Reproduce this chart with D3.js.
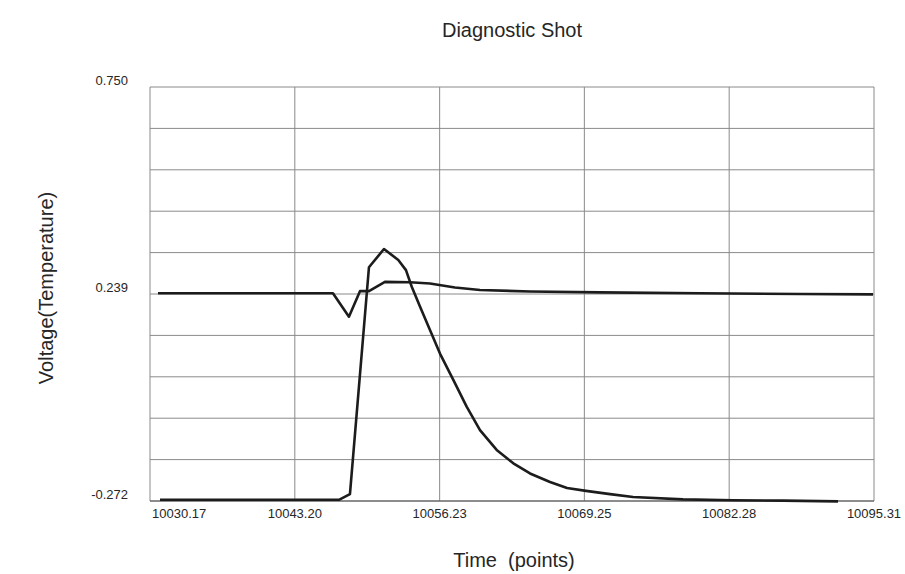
<!DOCTYPE html>
<html>
<head>
<meta charset="utf-8">
<script src="https://cdn.jsdelivr.net/npm/d3@7"></script>
<style>
  html, body { margin: 0; padding: 0; background: #ffffff; }
  svg { display: block; }
  text { font-family: "Liberation Sans", Arial, sans-serif; fill: #262626; }
</style>
</head>
<body>
<svg id="chart" width="905" height="574"></svg>
<script>
// ---- data ----
const xTickLabels = ["10030.17", "10043.20", "10056.23", "10069.25", "10082.28", "10095.31"];
const xTickValues = [10030.17, 10043.20, 10056.23, 10069.25, 10082.28, 10095.31];
const yTickLabels = ["0.750", "0.239", "-0.272"];
const yTickValues = [0.750, 0.239, -0.272];

// upper trace (near 0.239 with a small dip)
const time1 = [10030.89, 10046.63, 10048.07, 10049.06, 10049.87, 10051.31, 10053.56, 10055.36, 10057.61, 10059.86, 10064.36, 10070.66, 10079.65, 10088.65, 10095.22];
const volt1 = [0.241, 0.241, 0.183, 0.246, 0.246, 0.269, 0.268, 0.265, 0.255, 0.249, 0.245, 0.243, 0.241, 0.239, 0.238];

// pulse trace (rises from baseline, peaks, decays)
const time2 = [10031.07, 10047.17, 10048.16, 10049.87, 10051.22, 10052.51, 10053.20, 10053.72, 10054.46, 10055.36, 10056.26, 10057.46, 10058.66, 10059.86, 10061.36, 10062.86, 10064.36, 10066.16, 10067.69, 10069.40, 10071.56, 10073.63, 10078.12, 10082.62, 10087.12, 10092.07];
const volt2 = [-0.269, -0.269, -0.255, 0.305, 0.350, 0.323, 0.298, 0.257, 0.208, 0.150, 0.092, 0.027, -0.039, -0.097, -0.146, -0.179, -0.204, -0.225, -0.240, -0.247, -0.255, -0.262, -0.268, -0.270, -0.271, -0.273];

(function () {
  const svg = d3.select("#chart");
  const pLeft = 150, pRight = 874, pTop = 87, pBottom = 501;

  const x = d3.scaleLinear().domain([10030.17, 10095.31]).range([pLeft, pRight]);
  const y = d3.scaleLinear().domain([-0.272, 0.750]).range([pBottom, pTop]);

  svg.append("rect").attr("width", 905).attr("height", 574).attr("fill", "#ffffff");

  // horizontal gridlines (10 equal divisions)
  const yGrid = d3.range(11).map(i => -0.272 + i * (0.750 + 0.272) / 10);
  svg.append("g").selectAll("line").data(yGrid).join("line")
    .attr("x1", pLeft).attr("x2", pRight)
    .attr("y1", d => y(d)).attr("y2", d => y(d))
    .attr("stroke", "#8a8a8a").attr("stroke-width", 1);

  // vertical gridlines
  svg.append("g").selectAll("line").data(xTickValues).join("line")
    .attr("x1", d => x(d)).attr("x2", d => x(d))
    .attr("y1", pTop).attr("y2", pBottom)
    .attr("stroke", "#8a8a8a").attr("stroke-width", 1);

  // bottom axis line slightly darker
  svg.append("line").attr("x1", pLeft).attr("x2", pRight).attr("y1", y(-0.272)).attr("y2", y(-0.272))
    .attr("stroke", "#555").attr("stroke-width", 1.2);

  // x tick labels
  svg.append("g").selectAll("text").data(xTickValues).join("text")
    .attr("x", (d, i) => i === 0 ? x(d) + 2 : x(d))
    .attr("y", 518)
    .attr("text-anchor", (d, i) => i === 0 ? "start" : "middle")
    .attr("font-size", 13)
    .text((d, i) => xTickLabels[i]);

  // y tick labels
  svg.append("g").selectAll("text").data(yTickValues).join("text")
    .attr("x", 128)
    .attr("y", d => y(d) - 2)
    .attr("text-anchor", "end")
    .attr("font-size", 13)
    .text((d, i) => yTickLabels[i]);

  // lines
  const line = d3.line().x(d => x(d[0])).y(d => y(d[1]));
  svg.append("path").datum(d3.zip(time1, volt1))
    .attr("d", line).attr("fill", "none").attr("stroke", "#1c1c1c").attr("stroke-width", 2.6)
    .attr("stroke-linejoin", "round");
  svg.append("path").datum(d3.zip(time2, volt2))
    .attr("d", line).attr("fill", "none").attr("stroke", "#1c1c1c").attr("stroke-width", 2.6)
    .attr("stroke-linejoin", "round");

  // titles
  svg.append("text").attr("x", 512).attr("y", 37).attr("text-anchor", "middle")
    .attr("font-size", 20).text("Diagnostic Shot");
  svg.append("text").attr("x", 514).attr("y", 567).attr("text-anchor", "middle")
    .attr("font-size", 20).style("white-space", "pre").text("Time  (points)");
  svg.append("text").attr("transform", "translate(53,288) rotate(-90)").attr("text-anchor", "middle")
    .attr("font-size", 20).text("Voltage(Temperature)");
})();
</script>
</body>
</html>
